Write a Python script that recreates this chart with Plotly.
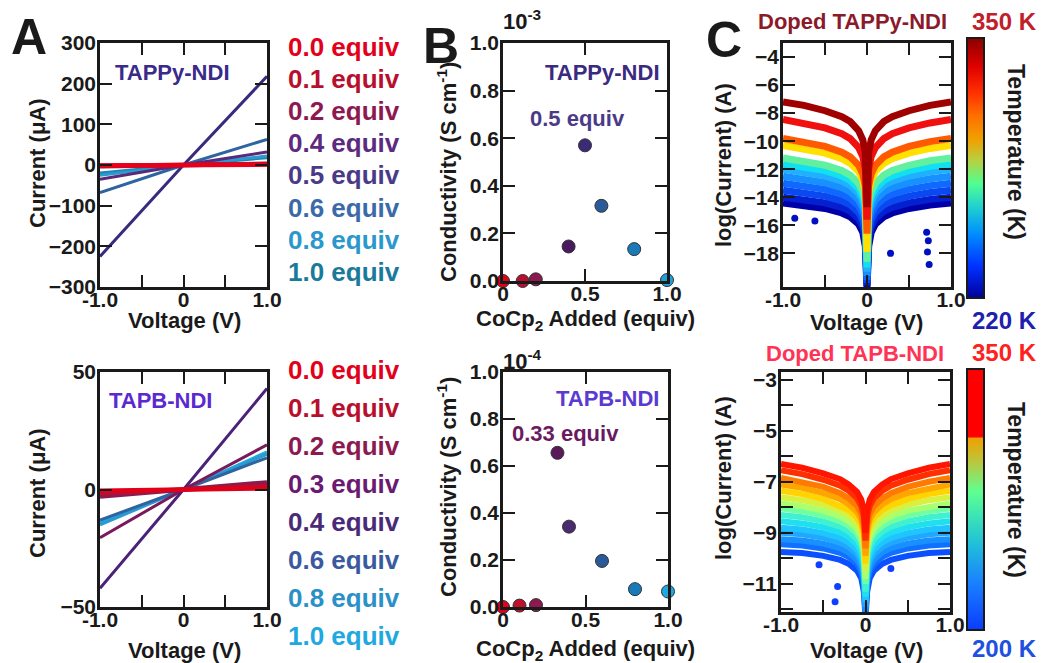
import plotly.graph_objects as go

W, H = 1044, 663
FONT = "Liberation Sans, Arial, Helvetica, sans-serif"
INK = "#1a1a1a"

# ---------------- Data ----------------
# Panel A: I-V curves, current (uA) at V = -1, 0, +1
iv_voltage = [-1.0, 0.0, 1.0]

tappy_equiv = ["0.0", "0.1", "0.2", "0.4", "0.5", "0.6", "0.8", "1.0"]
tappy_current = [
    [-1.0, 0.0, 1.0],
    [-2.0, 0.0, 2.0],
    [-3.0, 0.0, 3.0],
    [-35.0, 0.0, 32.0],
    [-225.0, 0.0, 218.0],
    [-68.0, 0.0, 63.0],
    [-25.0, 0.0, 22.0],
    [-20.0, 0.0, 18.0],
]

tapb_equiv = ["0.0", "0.1", "0.2", "0.3", "0.4", "0.6", "0.8", "1.0"]
tapb_current = [
    [-0.5, 0.0, 0.5],
    [-1.5, 0.0, 1.5],
    [-3.0, 0.0, 3.0],
    [-20.5, 0.0, 19.0],
    [-42.0, 0.0, 43.0],
    [-13.0, 0.0, 13.5],
    [-15.0, 0.0, 15.0],
    [-14.0, 0.0, 16.0],
]

# Panel B: conductivity (x1e-3 and x1e-4 S/cm) vs CoCp2 added
tappy_added = [0.0, 0.12, 0.2, 0.4, 0.5, 0.6, 0.8, 1.0]
tappy_cond = [0.0, 0.0, 0.007, 0.145, 0.57, 0.316, 0.134, 0.004]
tapb_added = [0.0, 0.1, 0.2, 0.33, 0.4, 0.6, 0.8, 1.0]
tapb_cond = [0.0, 0.006, 0.008, 0.656, 0.342, 0.196, 0.076, 0.066]

# Panel C: log(current) at |V| values (symmetric sweeps)
abs_v = [1.0, 0.75, 0.5, 0.3, 0.2, 0.1, 0.05, 0.02, 0.0]
tappy_logI = [  # 350 K ... 220 K
    [-7.20, -7.45, -7.83, -8.25, -8.60, -9.25, -9.90, -10.8, -14.7],
    [-8.45, -8.70, -9.05, -9.47, -9.82, -10.45, -11.1, -12.0, -15.6],
    [-9.80, -10.03, -10.37, -10.78, -11.12, -11.72, -12.35, -13.2, -16.6],
    [-10.30, -10.52, -10.85, -11.25, -11.58, -12.17, -12.8, -13.6, -17.9],
    [-11.20, -11.40, -11.72, -12.10, -12.42, -13.0, -13.6, -14.4, -18.6],
    [-11.60, -11.80, -12.10, -12.48, -12.80, -13.37, -13.97, -14.8, -19.0],
    [-12.00, -12.19, -12.48, -12.85, -13.16, -13.72, -14.3, -15.1, -19.3],
    [-12.50, -12.68, -12.96, -13.32, -13.62, -14.17, -14.75, -15.5, -19.6],
    [-13.00, -13.17, -13.44, -13.78, -14.08, -14.62, -15.2, -16.0, -19.9],
    [-13.50, -13.66, -13.92, -14.25, -14.54, -15.07, -15.65, -16.5, -20.1],
    [-14.00, -14.15, -14.40, -14.72, -15.00, -15.52, -16.1, -17.0, -20.3],
    [-14.40, -14.55, -14.80, -15.12, -15.40, -15.92, -16.5, -17.5, -20.5],
]
tappy_stray_v = [0.71, 0.73, 0.72, 0.74, 0.28, -0.86, -0.62]
tappy_stray_logI = [-16.5, -17.1, -17.9, -18.8, -18.0, -15.5, -15.7]

tapb_logI = [  # 350 K ... 200 K
    [-6.30, -6.45, -6.67, -6.90, -7.10, -7.40, -7.70, -8.10, -9.0],
    [-6.55, -6.70, -6.92, -7.15, -7.35, -7.65, -7.95, -8.35, -9.3],
    [-6.85, -7.00, -7.20, -7.45, -7.65, -7.95, -8.25, -8.65, -9.6],
    [-7.10, -7.24, -7.44, -7.68, -7.88, -8.18, -8.48, -8.90, -9.9],
    [-7.35, -7.48, -7.68, -7.92, -8.10, -8.40, -8.70, -9.10, -10.2],
    [-7.60, -7.72, -7.90, -8.13, -8.32, -8.62, -8.92, -9.35, -10.5],
    [-7.85, -7.96, -8.13, -8.36, -8.54, -8.84, -9.14, -9.57, -10.8],
    [-8.05, -8.15, -8.32, -8.54, -8.72, -9.02, -9.32, -9.77, -11.0],
    [-8.30, -8.39, -8.55, -8.76, -8.94, -9.24, -9.54, -10.0, -11.3],
    [-8.55, -8.63, -8.78, -8.98, -9.15, -9.45, -9.76, -10.2, -11.5],
    [-8.80, -8.87, -9.01, -9.20, -9.37, -9.66, -9.97, -10.4, -11.7],
    [-9.00, -9.06, -9.19, -9.38, -9.55, -9.84, -10.15, -10.6, -11.9],
    [-9.25, -9.30, -9.42, -9.60, -9.76, -10.05, -10.35, -10.8, -12.1],
    [-9.45, -9.50, -9.61, -9.78, -9.94, -10.22, -10.52, -11.0, -12.2],
    [-9.75, -9.79, -9.90, -10.06, -10.21, -10.48, -10.78, -11.3, -12.3],
]
tapb_stray_v = [-0.33, -0.36, 0.30, -0.55]
tapb_stray_logI = [-11.1, -11.7, -10.4, -10.25]

tappy_temp_range = [220, 350]
tapb_temp_range = [200, 350]

# ---------------- Styles ----------------
tappy_text_colors = ["#e2001a", "#b80f2e", "#8c1a50", "#5c2a80", "#4a3a88", "#3a6aa8", "#2a98cc", "#1a7a9a"]
tappy_line_colors = ["#e8001a", "#c0102c", "#8c1a50", "#5a2a78", "#3a2a7e", "#2e64a0", "#2a9ad0", "#1a88b0"]
tapb_text_colors = ["#e2001a", "#b80f2e", "#8c1a50", "#6a1a70", "#4a2a78", "#3a5aa0", "#2a90c8", "#20a8e0"]
tapb_line_colors = ["#e0001a", "#b8102e", "#8c1a50", "#7a1a5a", "#4a2278", "#2e64a0", "#2a9ad0", "#20a8e0"]
tappy_marker_colors = ["#e2001a", "#b80f2e", "#8c1a50", "#4a1a60", "#3a2a78", "#2a5a9a", "#1a7ab8", "#20a0d8"]
tapb_marker_colors = ["#e2001a", "#c0102a", "#8c1a50", "#5a1a5a", "#4a2a70", "#2a5a9a", "#1a7ab8", "#20a8e0"]
tappy_curve_colors = ["#a00000", "#f01010", "#ff5a00", "#ffe000", "#60f0a0", "#10e0f0",
                      "#20b0ff", "#1890ff", "#1068ff", "#0a48f0", "#0420d0", "#0000a8"]
tapb_curve_colors = ["#ff1500", "#ff3000", "#ff7a00", "#ffa500", "#ffd400", "#d8f040", "#a8ff70",
                     "#70ffa0", "#40f0d0", "#20e0f0", "#20c4ff", "#20a8ff", "#1890ff", "#1070ff", "#0a50ff"]
top_cs = [[0, "#00009a"], [0.12, "#0030ff"], [0.25, "#0090ff"], [0.35, "#20d0d0"], [0.44, "#50ff90"],
          [0.53, "#b8d040"], [0.61, "#f0a000"], [0.70, "#ff7000"], [0.79, "#ff3000"], [0.89, "#e00000"],
          [1, "#8b0000"]]
bottom_cs = [[0, "#0a3cff"], [0.18, "#1a80ff"], [0.33, "#20c0d8"], [0.45, "#40e8b0"], [0.53, "#60ff90"],
             [0.64, "#b8c840"], [0.735, "#f0a000"], [0.74, "#ff0000"], [1, "#ff0000"]]


def dx(l, r):
    return [l / W, r / W]


def dy(t, b):
    return [1 - b / H, 1 - t / H]


def px(x):
    return x / W


def py(y):
    return 1 - y / H


fig = go.Figure()

# Panel A traces
for i in reversed(range(len(tappy_equiv))):
    fig.add_trace(go.Scatter(x=iv_voltage, y=tappy_current[i], mode="lines",
                             line=dict(color=tappy_line_colors[i], width=4.5 if i < 3 else 3),
                             xaxis="x", yaxis="y", showlegend=False))
for i in reversed(range(len(tapb_equiv))):
    fig.add_trace(go.Scatter(x=iv_voltage, y=tapb_current[i], mode="lines",
                             line=dict(color=tapb_line_colors[i], width=4.5 if i < 3 else 3),
                             xaxis="x2", yaxis="y2", showlegend=False))

# Panel B traces
fig.add_trace(go.Scatter(x=tappy_added, y=tappy_cond, mode="markers", cliponaxis=False,
                         marker=dict(size=13, color=tappy_marker_colors, line=dict(color="#333", width=1)),
                         xaxis="x3", yaxis="y3", showlegend=False))
fig.add_trace(go.Scatter(x=tapb_added, y=tapb_cond, mode="markers", cliponaxis=False,
                         marker=dict(size=13, color=tapb_marker_colors, line=dict(color="#333", width=1)),
                         xaxis="x4", yaxis="y4", showlegend=False))


def mirror(vals):
    return list(vals[:-1]) + [vals[-1]] + list(reversed(vals[:-1]))


full_v = [-v for v in abs_v[:-1]] + [0.0] + list(reversed(abs_v[:-1]))

# Panel C traces (coldest first)
fig.add_trace(go.Scatter(x=tappy_stray_v, y=tappy_stray_logI, mode="markers",
                         marker=dict(size=7, color="#0010c0"), xaxis="x5", yaxis="y5", showlegend=False))
for i in reversed(range(len(tappy_logI))):
    fig.add_trace(go.Scatter(x=full_v, y=mirror(tappy_logI[i]), mode="lines",
                             line=dict(color=tappy_curve_colors[i], width=7),
                             xaxis="x5", yaxis="y5", showlegend=False))
fig.add_trace(go.Scatter(x=tapb_stray_v, y=tapb_stray_logI, mode="markers",
                         marker=dict(size=7, color="#1040ff"), xaxis="x6", yaxis="y6", showlegend=False))
for i in reversed(range(len(tapb_logI))):
    fig.add_trace(go.Scatter(x=full_v, y=mirror(tapb_logI[i]), mode="lines",
                             line=dict(color=tapb_curve_colors[i], width=6),
                             xaxis="x6", yaxis="y6", showlegend=False))

# Colorbars
for rng, cs, top, bot, ax in [(tappy_temp_range, top_cs, 38, 298, "5"),
                              (tapb_temp_range, bottom_cs, 369, 630, "6")]:
    fig.add_trace(go.Scatter(x=[None], y=[None], mode="markers", xaxis="x" + ax, yaxis="y" + ax,
                             showlegend=False,
                             marker=dict(color=rng, cmin=rng[0], cmax=rng[1], colorscale=cs, showscale=True,
                                         colorbar=dict(x=px(967), xanchor="left", y=py((top + bot) / 2),
                                                       yanchor="middle", len=bot - top, lenmode="pixels",
                                                       thickness=17, thicknessmode="pixels", xpad=0, ypad=0,
                                                       outlinewidth=2, outlinecolor=INK,
                                                       showticklabels=False, ticks=""))))

tickfont = dict(family=FONT, size=21, color=INK, weight="bold")
minor_style = dict(ticks="inside", ticklen=12, tickwidth=2, tickcolor=INK, showgrid=False)
base = dict(showline=True, linecolor=INK, linewidth=2.5, mirror="ticks", ticks="inside", ticklen=12,
            tickwidth=2, tickcolor=INK, showgrid=False, zeroline=False, tickfont=tickfont, fixedrange=True)
xbase = dict(base, ticklabelstandoff=-8)
ybase = dict(base, ticklabelstandoff=-3)

v_ticks = dict(tickvals=[-1, 0, 1], ticktext=["-1.0", "0", "1.0"],
               minor=dict(minor_style, tickvals=[-0.5, 0.5]))
b_xticks = dict(tickvals=[0, 0.5, 1.0], ticktext=["0", "0.5", "1.0"])
b_yticks = dict(tickvals=[0, 0.2, 0.4, 0.6, 0.8, 1.0], ticktext=["0.0", "0.2", "0.4", "0.6", "0.8", "1.0"])

layout = dict(
    width=W, height=H, margin=dict(l=0, r=0, t=0, b=0, autoexpand=False),
    paper_bgcolor="white", plot_bgcolor="white",
    xaxis=dict(xbase, domain=dx(100, 267), range=[-1, 1], anchor="y", **v_ticks),
    yaxis=dict(ybase, domain=dy(43, 287), range=[-300, 300], anchor="x",
               tickvals=[-300, -200, -100, 0, 100, 200, 300]),
    xaxis2=dict(xbase, domain=dx(100, 267), range=[-1, 1], anchor="y2", **v_ticks),
    yaxis2=dict(ybase, domain=dy(372, 607), range=[-50, 50], anchor="x2", tickvals=[-50, 0, 50]),
    xaxis3=dict(xbase, domain=dx(503, 667), range=[0, 1], anchor="y3", **b_xticks),
    yaxis3=dict(ybase, domain=dy(43, 281), range=[0, 1], anchor="x3", **b_yticks),
    xaxis4=dict(xbase, domain=dx(503, 668), range=[0, 1], anchor="y4", **b_xticks),
    yaxis4=dict(ybase, domain=dy(372, 607), range=[0, 1], anchor="x4", **b_yticks),
    xaxis5=dict(xbase, domain=dx(783, 951), range=[-1, 1], anchor="y5", **v_ticks),
    yaxis5=dict(ybase, domain=dy(43, 287), range=[-20.4, -3.0], anchor="x5",
                tickvals=[-18, -16, -14, -12, -10, -8, -6, -4]),
    xaxis6=dict(xbase, domain=dx(781, 950), range=[-1, 1], anchor="y6", **v_ticks),
    yaxis6=dict(ybase, domain=dy(372, 612), range=[-12.1, -2.7], anchor="x6",
                tickvals=[-11, -9, -7, -5, -3],
                minor=dict(minor_style, tickvals=[-12, -10, -8, -6, -4])),
)
fig.update_layout(**layout)

ann = []


def text(t, x, y, size=22, color=INK, angle=0):
    ann.append(dict(text=t, x=px(x), y=py(y), xref="paper", yref="paper", showarrow=False,
                    xanchor="center", yanchor="middle", textangle=angle,
                    font=dict(family=FONT, size=size, color=color, weight="bold")))


# panel letters
text("A", 29, 37, size=50)
text("B", 441, 46, size=50)
text("C", 724, 40, size=50)

# Panel A labels
text("Current (μA)", 37, 163, angle=-90)
text("Current (μA)", 37, 493, angle=-90)
text("Voltage (V)", 184, 320)
text("Voltage (V)", 184, 650)
text("TAPPy-NDI", 172, 72, color="#3a2a8a")
text("TAPB-NDI", 160, 400, color="#5a2ad0")
for i, e in enumerate(tappy_equiv):
    text(e + " equiv", 344, 47 + 32.1 * i, size=26, color=tappy_text_colors[i])
for i, e in enumerate(tapb_equiv):
    text(e + " equiv", 344, 370 + 38 * i, size=26, color=tapb_text_colors[i])

# Panel B labels
text("Conductivity (S cm<sup>-1</sup>)", 447, 172, angle=-90)
text("Conductivity (S cm<sup>-1</sup>)", 447, 487, angle=-90)
text("CoCp<sub>2</sub> Added (equiv)", 585, 320)
text("CoCp<sub>2</sub> Added (equiv)", 585, 650)
text("10<sup>-3</sup>", 522, 20)
text("10<sup>-4</sup>", 522, 360)
text("TAPPy-NDI", 602, 72, color="#3a2a80")
text("0.5 equiv", 577, 118, color="#4a3a88")
text("TAPB-NDI", 607, 398, color="#5a3ad0")
text("0.33 equiv", 565, 433, color="#6a1a60")

# Panel C labels
text("log(Current) (A)", 723, 165, angle=-90)
text("log(Current) (A)", 723, 478, angle=-90)
text("Voltage (V)", 866, 322)
text("Voltage (V)", 866, 650)
text("Doped TAPPy-NDI", 852, 22, color="#8b1a2a")
text("Doped TAPB-NDI", 855, 353, color="#ff3355")
text("350 K", 1004, 22, size=24, color="#c0202a")
text("220 K", 1004, 320, size=24, color="#2020b0")
text("350 K", 1004, 352, size=24, color="#ff2020")
text("200 K", 1004, 648, size=24, color="#2050e0")
text("Temperature (K)", 1016, 152, size=23, angle=90)
text("Temperature (K)", 1016, 490, size=23, angle=90)

fig.update_layout(annotations=ann)
fig.write_html("out.html", config={"displayModeBar": False},
               post_script="document.body.style.margin='0px';document.body.style.padding='0px';")
